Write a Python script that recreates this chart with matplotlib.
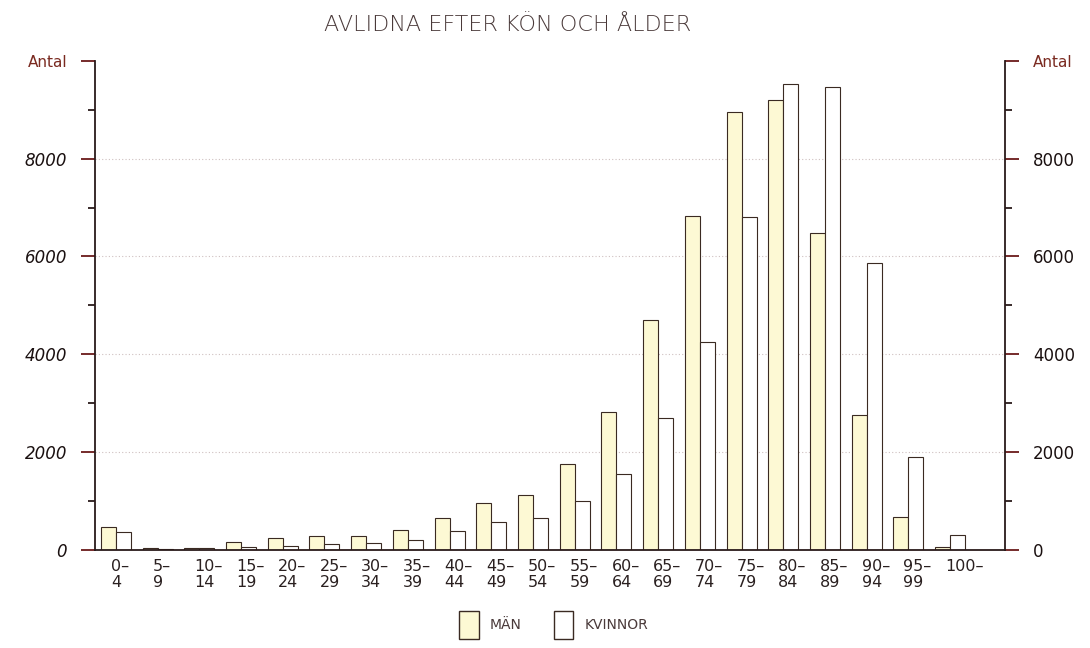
import matplotlib.pyplot as plt
import matplotlib.transforms as mtransforms
from matplotlib.patches import Patch
import numpy as np

# Avlidna efter kön och ålder
age_groups = ['0–\n4', '5–\n9', '10–\n14', '15–\n19', '20–\n24', '25–\n29', '30–\n34',
              '35–\n39', '40–\n44', '45–\n49', '50–\n54', '55–\n59', '60–\n64', '65–\n69',
              '70–\n74', '75–\n79', '80–\n84', '85–\n89', '90–\n94', '95–\n99', '100–']
man = [470, 40, 50, 160, 240, 290, 280, 410, 650, 960, 1130, 1750, 2820, 4700,
       6830, 8960, 9200, 6490, 2770, 670, 60]
kvinnor = [370, 30, 40, 70, 90, 120, 140, 200, 380, 570, 650, 1000, 1560, 2700,
           4250, 6810, 9530, 9460, 5860, 1910, 300]

yticks = [0, 2000, 4000, 6000, 8000]

plt.rcParams['font.family'] = ['DejaVu Sans']

fig = plt.figure(figsize=(10.9, 6.48), dpi=100)
ax = fig.add_axes([0.0872, 0.1512, 0.835, 0.755])

x = np.arange(len(age_groups))
w = 0.36
man_color = '#fdf9d4'
edge = '#3a2a22'

ax.bar(x - w / 2, man, width=w, color=man_color, edgecolor=edge, linewidth=0.8)
ax.bar(x + w / 2, kvinnor, width=w, color='white', edgecolor=edge, linewidth=0.8)

ax.set_xlim(-0.5, 21.32)
ax.set_ylim(0, 10000)

# dotted grid
for v in yticks[1:]:
    ax.axhline(v, color='#cfc0c0', linestyle=(0, (1, 2)), linewidth=0.8, zorder=0)

ax.spines['top'].set_visible(False)
for s in ['left', 'right', 'bottom']:
    ax.spines[s].set_color('#2a1a1a')
    ax.spines[s].set_linewidth(1.3)

ax.set_yticks(yticks + [10000])
ax.set_yticklabels([str(v) for v in yticks] + ['Antal'])
ax.set_yticks(np.arange(1000, 10000, 2000), minor=True)
ax.tick_params(axis='y', which='major', length=10, width=1.3, color='#6a1a1a',
               labelsize=12, left=True, right=True, labelleft=True, labelright=True,
               labelcolor='#1a1010', pad=10)
ax.tick_params(axis='y', which='minor', length=5, width=1.3, color='#2a1a1a',
               left=True, right=True)
for tick in ax.yaxis.get_major_ticks():
    if tick.label1.get_text() == 'Antal':
        for lab in (tick.label1, tick.label2):
            lab.set_color('#7a2a20')
            lab.set_fontsize(11)
    else:
        tick.label1.set_fontstyle('italic')
        tick.label2.set_fontstyle('normal')
ax.tick_params(axis='x', length=0, labelbottom=False)

# x labels, left aligned just left of the group centre
trans = mtransforms.blended_transform_factory(ax.transData, ax.transAxes)
for i, lab in enumerate(age_groups):
    ax.text(i - 0.12, -0.018, lab, transform=trans, ha='left', va='top',
            multialignment='left', fontsize=11.5, color='#2a2020', linespacing=1.1)

fig.text(0.466, 0.962, 'AVLIDNA EFTER KÖN OCH ÅLDER', ha='center', va='center',
         fontsize=16, color='#4a3a3a', fontweight='light')

handles = [Patch(facecolor=man_color, edgecolor=edge, label='MÄN'),
           Patch(facecolor='white', edgecolor=edge, label='KVINNOR')]
fig.legend(handles=handles, loc='lower center', bbox_to_anchor=(0.508, -0.005),
           ncol=2, frameon=False, handlelength=1.4, handleheight=2.7,
           fontsize=10, columnspacing=2.3, labelcolor='#4a3a3a')

fig.savefig('out.png', dpi=100)
